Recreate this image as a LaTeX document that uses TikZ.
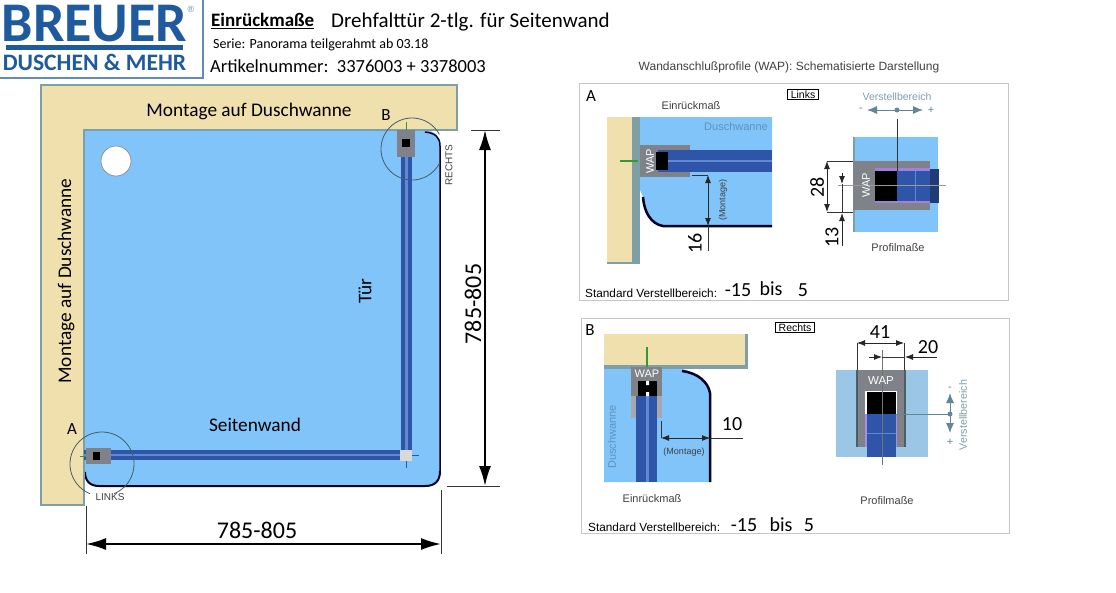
\documentclass[tikz,border=0pt]{standalone}
\usepackage{fontspec}
\setmainfont{Carlito}
\newfontfamily\arialfont{Liberation Sans}
\usetikzlibrary{arrows.meta}
\definecolor{sandcol}{HTML}{F0E0AE}
\definecolor{wallcol}{HTML}{7F9FA6}
\definecolor{floorcol}{HTML}{80C4FA}
\definecolor{palecol}{HTML}{9CC6E6}
\definecolor{barcol}{HTML}{2F55A8}
\definecolor{barlight}{HTML}{5F8AD2}
\definecolor{wapcol}{HTML}{7F8288}
\definecolor{logocol}{HTML}{1F5A9E}
\definecolor{stellcol}{HTML}{5F8796}
\tikzset{
    plaintext/.style={
        inner sep=0,
        font=\fontsize{19.3}{21}\selectfont
    },
    bignum/.style={
        inner sep=0,
        font=\fontsize{24}{26}\selectfont
    },
    midnum/.style={
        inner sep=0,
        font=\fontsize{20}{22}\selectfont
    },
    smalltext/.style={
        inner sep=0,
        text=black!75,
        font=\arialfont\fontsize{11}{13}\selectfont
    },
    panelbox/.style={
        draw=black!22,
        line width=1pt
    },
    tagbox/.style={
        draw=black,
        line width=0.8pt,
        inner ysep=1.5pt,
        inner xsep=3pt,
        font=\arialfont\fontsize{10.5}{12}\selectfont
    },
    wallline/.style={
        draw=wallcol,
        line width=2.5pt
    },
    edgeline/.style={
        draw=black!85!blue,
        line width=2.5pt
    },
    dimline/.style={
        draw=black!80,
        line width=0.9pt
    },
    dimarrow/.style={
        draw=black!85,
        line width=0.9pt,
        {Latex[length=8pt,width=6pt]}-{Latex[length=8pt,width=6pt]}
    },
    dimtip/.style={
        draw=black!85,
        line width=0.9pt,
        -{Latex[length=8pt,width=6pt]}
    },
    bigarrow/.style={
        draw=black,
        line width=2pt,
        {Latex[length=20pt,width=12pt]}-{Latex[length=20pt,width=12pt]}
    },
    stellarrow/.style={
        draw=stellcol,
        line width=1pt,
        {Latex[length=10pt,width=8pt]}-{Latex[length=10pt,width=8pt]}
    },
    greenline/.style={
        draw=green!50!black!80,
        line width=1.5pt
    },
    zoomcircle/.style={
        draw=stellcol!70!black,
        line width=0.8pt
    }
}
\begin{document}
\begin{tikzpicture}[x=1pt,y=-1pt]
    \useasboundingbox (0,0) rectangle (1116,592);
    \fill[white] (0,0) rectangle (1116,592);

    % logo
    \draw[draw=logocol!70,line width=1.2pt] (-1,-1) rectangle (203,78);
    \node[inner sep=0,text=logocol,font=\fontsize{56}{58}\selectfont\bfseries] (logotop) at (94.5,23.5) {BREUER};
    \node[inner sep=0,text=logocol!70,font=\arialfont\fontsize{9}{10}\selectfont] (logomark) at (191,9) {®};
    \fill[logocol] (6,45) rectangle (183,50);
    \node[inner sep=0,text=logocol,font=\fontsize{23.6}{25}\selectfont\bfseries] (logobottom) at (94.5,62.5) {DUSCHEN \& MEHR};

    % header
    \node[inner sep=0,anchor=west,font=\fontsize{19}{22}\selectfont\bfseries] (headmain) at (211,21) {\underline{Einrückmaße}};
    \node[inner sep=0,anchor=west,font=\fontsize{21}{24}\selectfont] (headdoor) at (331,22) {Drehfalttür 2-tlg. für Seitenwand};
    \node[inner sep=0,anchor=west,font=\fontsize{14}{16}\selectfont] (headserie) at (213,45) {Serie: Panorama teilgerahmt ab 03.18};
    \node[inner sep=0,anchor=west,font=\fontsize{18.5}{22}\selectfont] (headnumber) at (210,66) {Artikelnummer:\ \ 3376003 + 3378003};
    \node[smalltext,font=\arialfont\fontsize{12}{14}\selectfont] (headwap) at (789,67) {Wandanschlußprofile (WAP): Schematisierte Darstellung};

    % main plan
    \path[fill=floorcol] (84,130) -- (425,130) .. controls (435,131) and (440,136) .. (440,146) -- (440,471) .. controls (440,481) and (435,486) .. (425,486) -- (99,486) .. controls (90,486) and (85,481) .. (85,472) -- cycle;
    \draw[edgeline,line width=2pt] (85,472) .. controls (85,481) and (90,486) .. (99,486) -- (425,486) .. controls (435,486) and (440,481) .. (440,471);
    \draw[edgeline,line width=1.5pt] (440,471) -- (440,146) .. controls (440,137) and (435,133) .. (425,132);
    \draw[wallline,fill=sandcol] (41,85) -- (457,85) -- (457,130) -- (84,130) -- (84,505) -- (41,505) -- cycle;
    \draw[draw=black!45,fill=white,line width=0.7pt] (116,161) circle[radius=15pt];

    \fill[barcol] (401,130) rectangle (412,450);
    \fill[barlight] (405,130) rectangle (408,450);
    \fill[barcol] (84,450) rectangle (400,460);
    \fill[barlight] (84,454) rectangle (400,456);
    \fill[black!15] (400,450) rectangle (412,461);
    \draw[barcol,line width=0.7pt] (406,461) -- (406,468) (412,455) -- (419,455);
    \fill[wapcol] (397,130) rectangle (415,157);
    \fill[black] (402,139) rectangle (410,147);
    \fill[wapcol] (86,448) rectangle (111,464);
    \fill[black] (93,452) rectangle (100,460);
    \draw[greenline,line width=0.7pt] (406,122) -- (406,130) (80,456) -- (86,456);

    \coordinate (circA) at (102,464);
    \coordinate (circB) at (412,149);
    \draw[zoomcircle] (circA) ++(-68:32pt) arc[start angle=-68,end angle=248,radius=32pt];
    \draw[zoomcircle] (circB) ++(28:31pt) arc[start angle=28,end angle=333,radius=31pt];

    \node[plaintext] (montagetop) at (249,111) {Montage auf Duschwanne};
    \node[plaintext,rotate=90] (montageleft) at (66,281) {Montage auf Duschwanne};
    \node[plaintext,font=\fontsize{17}{20}\selectfont] (labelB) at (386,115) {B};
    \node[plaintext,font=\fontsize{17}{20}\selectfont] (labelA) at (72,429) {A};
    \node[plaintext,rotate=90] (doortext) at (365,291) {Tür};
    \node[plaintext] (sidewall) at (255,425) {Seitenwand};
    \node[smalltext,rotate=90,font=\arialfont\fontsize{10}{12}\selectfont] (rechtsmain) at (449,165) {RECHTS};
    \node[smalltext,font=\arialfont\fontsize{10}{12}\selectfont] (linksmain) at (110,497) {LINKS};

    % main dimensions
    \coordinate (dimRa) at (485,130);
    \coordinate (dimRb) at (485,486);
    \coordinate (dimBa) at (86,544);
    \coordinate (dimBb) at (441,544);
    \draw[dimline] (471,130) -- (500,130) (447,486) -- (500,486);
    \draw[dimline] (86,506) -- (86,554) (441,490) -- (441,554);
    \draw[bigarrow] (dimRa) -- (dimRb);
    \draw[bigarrow] (dimBa) -- (dimBb);
    \node[bignum,rotate=90] (widthright) at (473,304) {785-805};
    \node[bignum] (widthbottom) at (257,530) {785-805};

    % panel A
    \draw[panelbox] (579,83) rectangle (1008,300);
    \node[plaintext,font=\fontsize{17}{20}\selectfont] (panelA) at (591,96) {A};
    \node[smalltext] (einrueckA) at (691,106) {Einrückmaß};
    \node[tagbox] (tagA) at (803,94.5) {Links};

    \fill[sandcol] (607,117) rectangle (632,262);
    \fill[wallcol] (632,117) rectangle (640,264);
    \fill[wallcol] (607,262) rectangle (640,264);
    \fill[floorcol] (640,117) -- (772,117) -- (772,226) -- (663,226) .. controls (651,224) and (644,212) .. (643,197) -- (640,190) -- cycle;
    \draw[edgeline] (643,197) .. controls (644,212) and (651,224) .. (663,226) -- (772,226);
    \fill[wapcol] (640,145) rectangle (690,177);
    \fill[barcol] (658,150) rectangle (772,172);
    \fill[barlight] (658,160) rectangle (772,162);
    \fill[black] (656,152) rectangle (668,170);
    \node[inner sep=0,rotate=90,text=white,font=\arialfont\fontsize{11}{13}\selectfont] (wapA) at (650,161) {WAP};
    \draw[greenline] (620,161) -- (638,161);
    \node[inner sep=0,text=floorcol!75!black,font=\arialfont\fontsize{11}{13}\selectfont] (wanneA) at (736,127) {Duschwanne};
    \coordinate (dimAa) at (708,175);
    \coordinate (dimAb) at (708,226);
    \draw[dimline] (692,175) -- (dimAa);
    \draw[dimarrow] (dimAa) -- (dimAb);
    \draw[dimline] (dimAb) -- (708,251);
    \node[midnum,rotate=90] (numsixteen) at (695,243) {16};
    \node[smalltext,rotate=90,font=\arialfont\fontsize{9}{11}\selectfont] (montageA) at (723,200) {(Montage)};

    \node[smalltext,anchor=west,text=black,font=\arialfont\fontsize{11.8}{14}\selectfont] (stdA) at (585,293) {Standard Verstellbereich:};
    \node[midnum] (fromA) at (738,290) {-15};
    \node[midnum] (bisA) at (771,289) {bis};
    \node[midnum] (toA) at (803,290) {5};

    \fill[floorcol] (853,137) rectangle (938,232);
    \fill[wallcol] (853,137) rectangle (855,232);
    \fill[wapcol] (853,161) rectangle (930,210);
    \fill[barcol!70!black] (930,169) rectangle (939,203);
    \fill[violet!50!blue!50] (875,168) rectangle (930,203);
    \fill[black] (875,171) rectangle (897,201);
    \fill[barcol] (897,171) rectangle (930,201);
    \draw[barlight,line width=0.7pt] (915,171) -- (915,201);
    \draw[black!40,line width=0.8pt] (838,185) -- (946,185);
    \node[inner sep=0,rotate=90,text=white,font=\arialfont\fontsize{11}{13}\selectfont] (wapAr) at (866,185) {WAP};

    \node[inner sep=0,text=stellcol!80,font=\arialfont\fontsize{10.5}{13}\selectfont] (stellA) at (897,97) {Verstellbereich};
    \coordinate (stellAa) at (867,110);
    \coordinate (stellAb) at (923,110);
    \coordinate (stellAc) at (897,110);
    \draw[stellarrow] (stellAa) -- (stellAb);
    \fill[stellcol] (stellAc) circle[radius=2.5pt];
    \node[inner sep=0,text=stellcol,font=\arialfont\fontsize{11}{13}\selectfont] (minusA) at (861,110) {-};
    \node[inner sep=0,text=stellcol,font=\arialfont\fontsize{11}{13}\selectfont] (plusA) at (931,110) {+};
    \draw[black!80,line width=1pt] (897,119) -- (897,171);

    \coordinate (dimCa) at (827,161);
    \coordinate (dimCb) at (827,212);
    \coordinate (dimDa) at (842,184);
    \coordinate (dimDb) at (842,213);
    \draw[dimline] (dimCa) -- (853,161) (dimCb) -- (853,212);
    \draw[dimarrow] (dimCa) -- (dimCb);
    \draw[dimtip] (842,173) -- (dimDa);
    \draw[dimtip] (842,246) -- (dimDb);
    \draw[dimline] (dimDa) -- (dimDb);
    \node[midnum,rotate=90] (numeight) at (817,187) {28};
    \node[midnum,rotate=90] (numthirteen) at (832,237) {13};
    \node[smalltext,font=\arialfont\fontsize{11}{13}\selectfont] (profilA) at (898,248) {Profilmaße};

    % panel B
    \draw[panelbox] (581,318) rectangle (1009,533);
    \node[plaintext,font=\fontsize{17}{20}\selectfont] (panelB) at (590,330) {B};
    \node[tagbox] (tagB) at (795,327.5) {Rechts};

    \fill[floorcol] (604,369) -- (682,369) .. controls (698,373) and (708,382) .. (710,393) -- (710,482) -- (604,482) -- cycle;
    \fill[sandcol] (604,334) rectangle (745,365);
    \fill[wallcol] (745,334) rectangle (748,369);
    \fill[wallcol] (604,365) rectangle (748,369);
    \draw[edgeline] (682,371) .. controls (698,373) and (708,382) .. (710,393) -- (710,482);
    \fill[wapcol] (631,367) rectangle (662,396);
    \fill[wapcol!70!white] (631,396) rectangle (662,418);
    \fill[barcol] (636,396) rectangle (657,482);
    \fill[barlight] (646,396) rectangle (649,482);
    \fill[black] (638,381) rectangle (657,396);
    \fill[white] (646,381) rectangle (649,385) (646,392) rectangle (649,396);
    \node[inner sep=0,text=white,font=\arialfont\fontsize{11}{13}\selectfont] (wapB) at (647,374) {WAP};
    \draw[greenline] (647,347) -- (647,367);
    \coordinate (dimEa) at (661,438);
    \coordinate (dimEb) at (710,438);
    \draw[dimline] (661,421) -- (dimEa);
    \draw[dimarrow] (dimEa) -- (dimEb);
    \draw[dimline] (dimEb) -- (743,438);
    \node[midnum] (numten) at (732,424) {10};
    \node[smalltext,font=\arialfont\fontsize{9}{11}\selectfont] (montageB) at (684,452) {(Montage)};
    \node[inner sep=0,rotate=90,text=floorcol!75!black,font=\arialfont\fontsize{11}{13}\selectfont] (wanneB) at (612,437) {Duschwanne};
    \node[smalltext] (einrueckB) at (652,499) {Einrückmaß};

    \node[smalltext,anchor=west,text=black,font=\arialfont\fontsize{11.8}{14}\selectfont] (stdB) at (588,527) {Standard Verstellbereich:};
    \node[midnum] (fromB) at (744,525) {-15};
    \node[midnum] (bisB) at (781,525) {bis};
    \node[midnum] (toB) at (809,525) {5};

    \fill[palecol] (836,370) rectangle (928,457);
    \fill[wapcol] (856,370) rectangle (906,447);
    \draw[wallcol!60!black,line width=1.5pt] (857,370) -- (857,447) (905,370) -- (905,447);
    \fill[white] (865,391) rectangle (897,414);
    \fill[violet!50!blue!45] (865,414) rectangle (897,447);
    \fill[black] (867,392) rectangle (896,414);
    \fill[barcol] (867,414) rectangle (896,457);
    \draw[barlight,line width=0.7pt] (867,433) -- (896,433);
    \draw[black!55,line width=0.8pt] (882,350) -- (882,465);
    \node[inner sep=0,text=white,font=\arialfont\fontsize{11.5}{13}\selectfont] (wapBr) at (881,381) {WAP};

    \coordinate (dimFa) at (857,343);
    \coordinate (dimFb) at (904,343);
    \coordinate (dimGa) at (882,357);
    \coordinate (dimGb) at (905,357);
    \draw[dimline] (dimFa) -- (857,370) (dimFb) -- (904,370);
    \draw[dimarrow] (dimFa) -- (dimFb);
    \draw[dimtip] (869,357) -- (dimGa);
    \draw[dimtip] (937,357) -- (dimGb);
    \draw[dimline] (dimGa) -- (dimGb);
    \node[midnum] (numfortyone) at (880,332) {41};
    \node[midnum] (numtwenty) at (928,347) {20};

    \coordinate (stellBa) at (950,393);
    \coordinate (stellBb) at (950,433);
    \coordinate (stellBc) at (950,414);
    \draw[stellarrow] (stellBa) -- (stellBb);
    \draw[stellcol,line width=0.9pt] (896,414) -- (stellBc);
    \fill[stellcol] (stellBc) circle[radius=2.5pt];
    \node[inner sep=0,text=stellcol,font=\arialfont\fontsize{11}{13}\selectfont] (minusB) at (950,389) {-};
    \node[inner sep=0,text=stellcol,font=\arialfont\fontsize{11}{13}\selectfont] (plusB) at (950,442) {+};
    \node[inner sep=0,rotate=90,text=stellcol!80,font=\arialfont\fontsize{10.7}{13}\selectfont] (stellB) at (963,415) {Verstellbereich};
    \node[smalltext,font=\arialfont\fontsize{11}{13}\selectfont] (profilB) at (887,501) {Profilmaße};
\end{tikzpicture}
\end{document}
